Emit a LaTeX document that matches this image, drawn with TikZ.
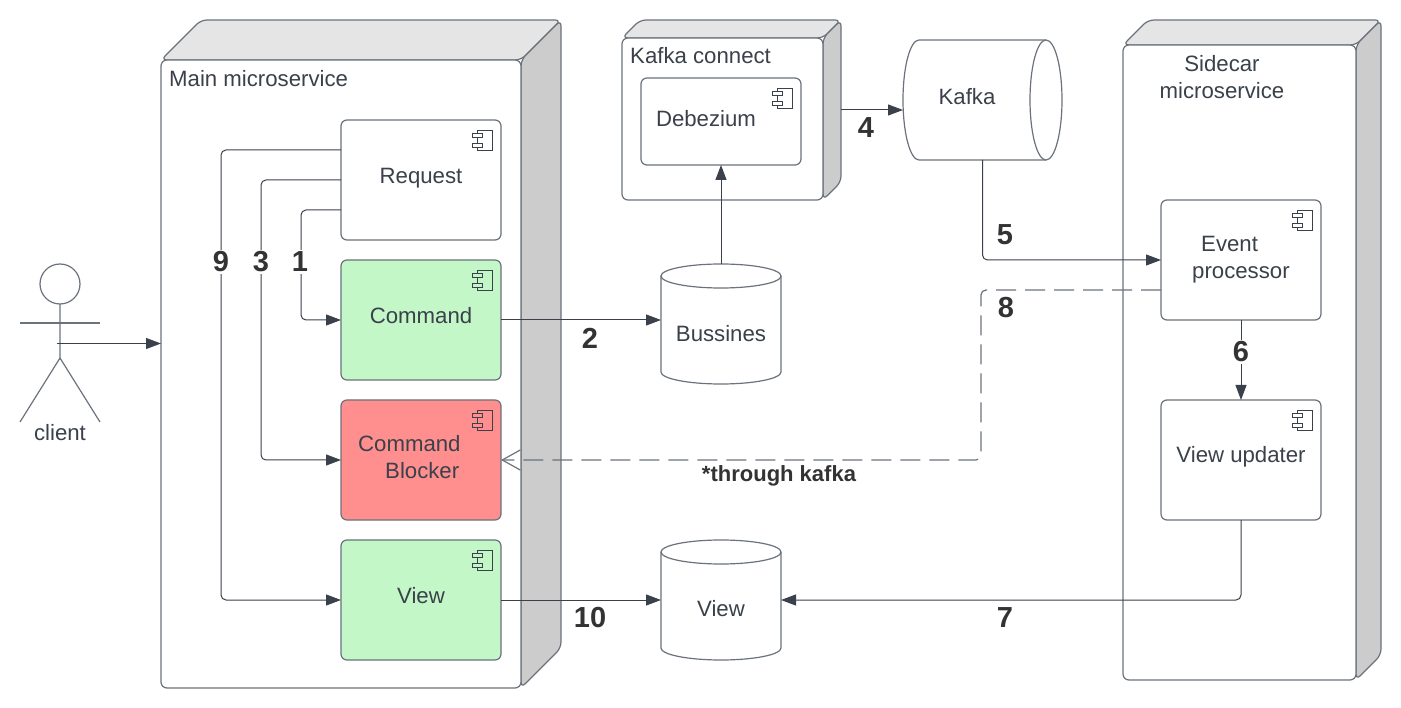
\documentclass[tikz,border=0pt]{standalone}
\usepackage{fontspec}
\setmainfont{Liberation Sans}
\usetikzlibrary{calc,arrows.meta}
\definecolor{ink}{HTML}{3A414A}
\definecolor{edge}{HTML}{6B727C}
\definecolor{numink}{HTML}{333333}
\definecolor{compgreen}{HTML}{C3F7C8}
\definecolor{compred}{HTML}{FF8F8F}
\tikzset{
	txt/.style={text=ink, font=\fontsize{22.2}{27}\selectfont, align=center, inner sep=0pt},
	num/.style={text=numink, font=\fontsize{29}{30}\selectfont\bfseries, inner sep=2pt, fill=white},
	comp/.style={draw=edge, line width=1.2pt, rounded corners=6pt, inner sep=0pt, outer sep=0pt},
	conn/.style={draw=ink, line width=1pt, rounded corners=5pt, -{Triangle[length=15pt,width=11pt]}},
	dashconn/.style={draw=edge, line width=1.2pt, rounded corners=5pt, dash pattern=on 20pt off 9pt, -{Straight Barb[length=18pt,width=20pt]}},
}
\def\devicebox(#1)(#2,#3)(#4,#5:#6){
	\draw[draw=edge, fill=black!10, line width=1.2pt, rounded corners=6pt] (#2,#3) -- ({#2+#6},{#3-#6}) -- ({#4+#6},{#3-#6}) -- (#4,#3) -- cycle;
	\draw[draw=edge, fill=black!20, line width=1.2pt, rounded corners=6pt] (#4,#3) -- ({#4+#6},{#3-#6}) -- ({#4+#6},{#5-#6}) -- (#4,#5) -- cycle;
	\node[comp, fill=white, minimum width={#4-#2}, minimum height={#5-#3}] (#1) at ({(#2+#4)/2},{(#3+#5)/2}) {};
}
\def\compicon(#1,#2:#3){
	\draw[draw=ink, line width=0.9pt] ({#1-15},{#2}) rectangle ({#1},{#2+20});
	\draw[draw=ink, fill=#3, line width=0.9pt] ({#1-20},{#2+3}) rectangle ({#1-10},{#2+7});
	\draw[draw=ink, fill=#3, line width=0.9pt] ({#1-20},{#2+13}) rectangle ({#1-10},{#2+17});
}
\def\dbcylinder(#1)(#2,#3){
	\node[minimum width=120pt, minimum height=120pt, inner sep=0pt, outer sep=0pt] (#1) at (#2,#3) {};
	\draw[draw=edge, fill=white, line width=1.2pt] ({#2-60},{#3-48}) -- ({#2-60},{#3+48}) arc (180:360:60pt and 12pt) -- ({#2+60},{#3-48});
	\draw[draw=edge, fill=white, line width=1.2pt] (#2,{#3-48}) circle [x radius=60pt, y radius=12pt];
}

\begin{document}
\begin{tikzpicture}[x=1pt, y=-1pt]
			%%%%% START %%%%%
			\useasboundingbox (0, 0) rectangle (1401, 708);
			
			% client
			\draw[draw=edge, line width=1.2pt] (60, 284) circle (20pt);
			\draw[draw=edge, line width=1.2pt] (60, 304) -- (60, 358) -- (20, 422);
			\draw[draw=edge, line width=1.2pt] (60, 358) -- (100, 422);
			\draw[draw=edge, line width=1.2pt] (20, 323) -- (100, 323);
			\coordinate (clienthand) at (57, 343.5);
			\node[txt] (clienttext) at (60, 433) {client};
			
			% boxes
			\devicebox(mainbox)(161,60)(521,688:40)
			\devicebox(connectbox)(622,38)(823,200:18)
			\devicebox(sidebox)(1123,45)(1356,680:25)
			\node[txt, anchor=west] (maintext) at (169, 79) {Main microservice};
			\node[txt, anchor=west] (connecttext) at (630, 56) {Kafka connect};
			\node[txt] (sidetext) at (1222, 77) {Sidecar\\microservice};
			
			% components
			\node[comp, fill=white, minimum width=160, minimum height=120] (request) at (421, 180) {};
			\node[comp, fill=compgreen, minimum width=160, minimum height=120] (command) at (421, 320) {};
			\node[comp, fill=compred, minimum width=160, minimum height=120] (blocker) at (421, 460) {};
			\node[comp, fill=compgreen, minimum width=160, minimum height=120] (viewcomp) at (421, 600) {};
			\node[comp, fill=white, minimum width=160, minimum height=87] (debezium) at (721, 121.5) {};
			\node[comp, fill=white, minimum width=160, minimum height=120] (processor) at (1241, 260) {};
			\node[comp, fill=white, minimum width=160, minimum height=120] (updater) at (1241, 460) {};
			
			\compicon(492,130:white)
			\compicon(492,270:compgreen)
			\compicon(492,410:compred)
			\compicon(492,550:compgreen)
			\compicon(792,88:white)
			\compicon(1312,210:white)
			\compicon(1312,410:white)
			
			\node[txt] (requesttext) at (421, 178) {Request};
			\node[txt] (commandtext) at (421, 316) {Command};
			\node[txt, align=left, anchor=west] (blockertext) at (358, 457) {Command\\\hspace*{27pt}Blocker};
			\node[txt] (viewcomptext) at (421, 596) {View};
			\node[txt] (debeziumtext) at (706, 119) {Debezium};
			\node[txt, align=left, anchor=west] (processortext) at (1192, 260) {\hspace*{9pt}Event\\processor};
			\node[txt] (updatertext) at (1241, 457) {View updater};
			
			% stores
			\dbcylinder(bussines)(721,324)
			\dbcylinder(viewdb)(721,600)
			\node[txt] (bussinestext) at (721, 334) {Bussines};
			\node[txt] (viewdbtext) at (721, 609) {View};
			\node[minimum width=159pt, minimum height=120pt, inner sep=0pt, outer sep=0pt] (kafka) at (982.5, 100) {};
			\draw[draw=edge, fill=white, line width=1.2pt] (1046, 40) -- (919, 40) arc (90:270:16pt and 60pt) -- (1046, 160);
			\draw[draw=edge, fill=white, line width=1.2pt] (1046, 100) circle [x radius=16pt, y radius=60pt];
			\node[txt] (kafkatext) at (967, 97) {Kafka};
			
			% connectors
			\draw[conn] (clienthand) -- (clienthand -| mainbox.west);
			\draw[conn] ($(request.west)+(0,-30)$) -- ($(viewcomp.west)+(-120,-450)$) -- ($(viewcomp.west)+(-120,0)$) -- (viewcomp.west);
			\draw[conn] (request.west) -- ($(blocker.west)+(-80,-280)$) -- ($(blocker.west)+(-80,0)$) -- (blocker.west);
			\draw[conn] ($(request.west)+(0,30)$) -- ($(command.west)+(-40,-110)$) -- ($(command.west)+(-40,0)$) -- (command.west);
			\draw[conn] (command.east) -- (bussines.west |- command.east);
			\draw[conn] (bussines.north) -- (debezium.south);
			\draw[conn] ($(connectbox.east)+(18,-9)$) -- ($(kafka.west)+(0,10)$);
			\draw[conn] (kafka.south) -- (kafka.south |- processor.west) -- (processor.west);
			\draw[conn] (processor.south) -- (updater.north);
			\draw[conn] (updater.south) -- (updater.south |- viewdb.east) -- (viewdb.east);
			\draw[conn] (viewcomp.east) -- (viewdb.west);
			\draw[dashconn] ($(processor.west)+(0,30)$) -- (981, 290) -- (981, 460) -- (blocker.east);
			
			% step numbers
			\node[num] (one) at (300, 262) {1};
			\node[num] (three) at (261, 262) {3};
			\node[num] (nine) at (221, 262) {9};
			\node[num, fill=none] (two) at (590, 338) {2};
			\node[num, fill=none] (four) at (866, 128) {4};
			\node[num, fill=none] (five) at (1005, 235) {5};
			\node[num] (six) at (1241, 352) {6};
			\node[num, fill=none] (seven) at (1005, 618) {7};
			\node[num, fill=none] (eight) at (1006, 308) {8};
			\node[num, fill=none] (ten) at (590, 618) {10};
			\node[text=numink, font=\fontsize{22}{24}\selectfont\bfseries, inner sep=0pt] (throughtext) at (779, 476) {*through kafka};
			
			%%%%% END %%%%%
\end{tikzpicture}
\end{document}
